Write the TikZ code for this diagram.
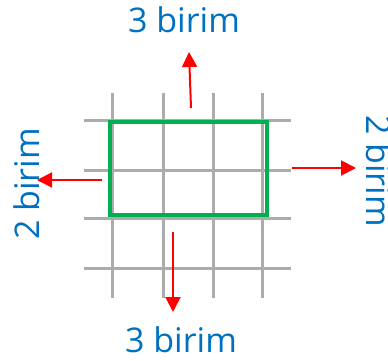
\documentclass[tikz,border=0pt]{standalone}
\usepackage{fontspec}
\setmainfont{Open Sans}
\usetikzlibrary{arrows.meta}
\definecolor{lblblue}{RGB}{0,112,192}
\definecolor{rectgreen}{RGB}{0,176,80}
\definecolor{gridgray}{RGB}{172,172,172}
\tikzset{
  lbl/.style={text=lblblue, inner sep=0pt, font=\fontsize{34}{40}\selectfont},
  gridline/.style={draw=gridgray, line width=3pt},
  redarrow/.style={draw=red, line width=2pt, -{Triangle[length=15pt,width=15pt]}},
  shape rect/.style={draw=rectgreen, line width=4pt}
}
\begin{document}
\begin{tikzpicture}[x=1pt,y=-1pt]
\useasboundingbox (0,0) rectangle (388,360);
% grid
\foreach \x in {112,163,213,262} \draw[gridline] (\x,93) -- (\x,298);
\foreach \y in {120,170,218,268} \draw[gridline] (84,\y) -- (291,\y);
% rectangle
\draw[shape rect] (110,122) rectangle (267,215);
% labels
\node[lbl] (top) at (184,20) {3 birim};
\node[lbl] (bottom) at (181,340) {3 birim};
\node[lbl, rotate=90] (left) at (27,184) {2 birim};
\node[lbl, rotate=-90] (right) at (379,171) {2 birim};
% arrow coordinates
\coordinate (ts) at (191,108); \coordinate (te) at (189,52);
\coordinate (bs) at (173,232); \coordinate (be) at (173,312);
\coordinate (ls) at (102,180); \coordinate (le) at (37,180);
\coordinate (rs) at (292,168); \coordinate (re) at (356,168);
\draw[redarrow] (ts) -- (te);
\draw[redarrow] (bs) -- (be);
\draw[redarrow] (ls) -- (le);
\draw[redarrow] (rs) -- (re);
\end{tikzpicture}
\end{document}
